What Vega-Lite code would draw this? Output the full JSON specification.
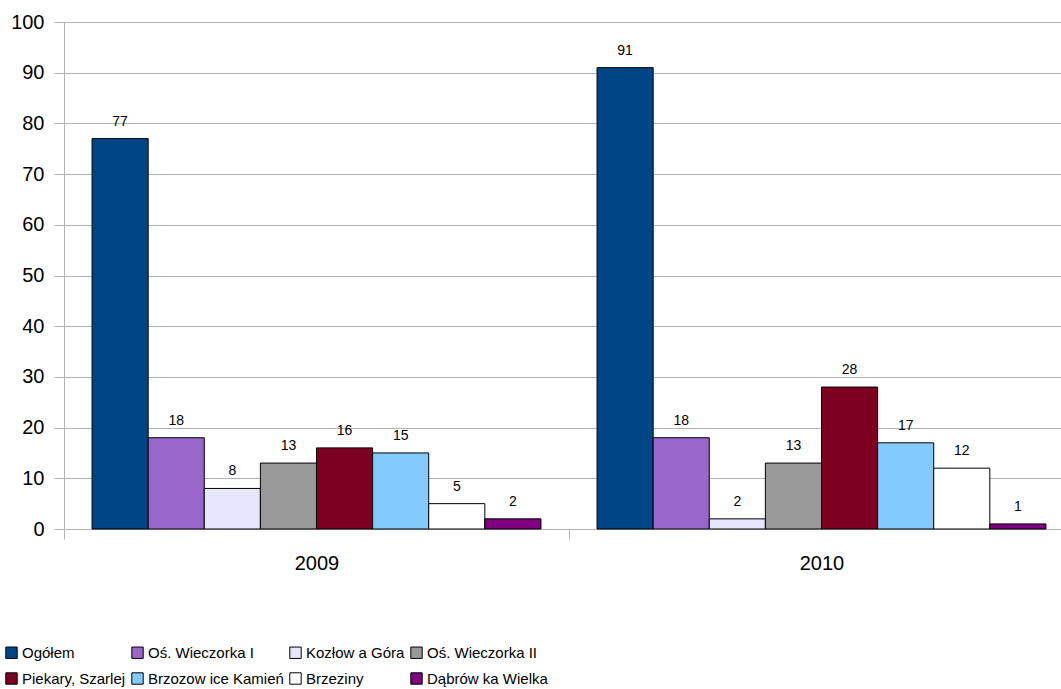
{
  "$schema": "https://vega.github.io/schema/vega-lite/v6.json",
  "autosize": {"type": "none"},
  "padding": {"top": 22, "left": 64, "right": 0, "bottom": 160},
  "width": 997,
  "height": 507,
  "background": "white",
  "config": {
    "view": {"stroke": null},
    "font": "Liberation Sans"
  },
  "data": {
    "values": [
      {"rok": "2009", "seria": "Ogółem", "wartosc": 77},
      {"rok": "2009", "seria": "Oś. Wieczorka I", "wartosc": 18},
      {"rok": "2009", "seria": "Kozłow a Góra", "wartosc": 8},
      {"rok": "2009", "seria": "Oś. Wieczorka II", "wartosc": 13},
      {"rok": "2009", "seria": "Piekary, Szarlej", "wartosc": 16},
      {"rok": "2009", "seria": "Brzozow ice Kamień", "wartosc": 15},
      {"rok": "2009", "seria": "Brzeziny", "wartosc": 5},
      {"rok": "2009", "seria": "Dąbrów ka Wielka", "wartosc": 2},
      {"rok": "2010", "seria": "Ogółem", "wartosc": 91},
      {"rok": "2010", "seria": "Oś. Wieczorka I", "wartosc": 18},
      {"rok": "2010", "seria": "Kozłow a Góra", "wartosc": 2},
      {"rok": "2010", "seria": "Oś. Wieczorka II", "wartosc": 13},
      {"rok": "2010", "seria": "Piekary, Szarlej", "wartosc": 28},
      {"rok": "2010", "seria": "Brzozow ice Kamień", "wartosc": 17},
      {"rok": "2010", "seria": "Brzeziny", "wartosc": 12},
      {"rok": "2010", "seria": "Dąbrów ka Wielka", "wartosc": 1}
    ]
  },
  "encoding": {
    "x": {
      "field": "rok", "type": "nominal",
      "scale": {"range": [0, 1010], "paddingInner": 0, "paddingOuter": 0},
      "axis": {
        "title": null, "labelAngle": 0, "labelFontSize": 20, "labelColor": "#000000",
        "labelPadding": 14, "tickBand": "extent", "tickSize": 10,
        "tickColor": "#b3b3b3", "domainColor": "#b3b3b3", "grid": false
      }
    },
    "xOffset": {
      "field": "seria", "type": "nominal",
      "sort": ["Ogółem", "Oś. Wieczorka I", "Kozłow a Góra", "Oś. Wieczorka II", "Piekary, Szarlej", "Brzozow ice Kamień", "Brzeziny", "Dąbrów ka Wielka"],
      "scale": {"paddingInner": 0, "paddingOuter": 0.5}
    },
    "y": {
      "field": "wartosc", "type": "quantitative",
      "scale": {"domain": [0, 100], "nice": false},
      "axis": {
        "title": null, "values": [0, 10, 20, 30, 40, 50, 60, 70, 80, 90, 100],
        "labelFontSize": 20, "labelColor": "#000000", "labelPadding": 10,
        "tickSize": 10, "tickColor": "#b3b3b3", "domainColor": "#b3b3b3",
        "gridColor": "#b3b3b3", "gridOpacity": 1
      }
    }
  },
  "layer": [
    {
      "mark": {"type": "bar", "stroke": "#000000", "strokeWidth": 1},
      "encoding": {
        "color": {
          "field": "seria", "type": "nominal",
          "sort": ["Ogółem", "Oś. Wieczorka I", "Kozłow a Góra", "Oś. Wieczorka II", "Piekary, Szarlej", "Brzozow ice Kamień", "Brzeziny", "Dąbrów ka Wielka"],
          "scale": {
            "domain": ["Ogółem", "Oś. Wieczorka I", "Kozłow a Góra", "Oś. Wieczorka II", "Piekary, Szarlej", "Brzozow ice Kamień", "Brzeziny", "Dąbrów ka Wielka"],
            "range": ["#004586", "#9966cc", "#e6e6ff", "#999999", "#7e0021", "#83caff", "#ffffff", "#800080"]
          },
          "legend": {
            "title": null, "orient": "none", "legendX": -60, "legendY": 623,
            "direction": "horizontal", "columns": 4, "gridAlign": "each",
            "columnPadding": 3, "rowPadding": 9,
            "symbolType": "square", "symbolSize": 130, "symbolStrokeColor": "#000000",
            "symbolStrokeWidth": 1, "symbolOpacity": 1,
            "labelFont": "Liberation Sans", "labelFontSize": 15, "labelColor": "#000000",
            "labelOffset": 3, "labelLimit": 400
          }
        }
      }
    },
    {
      "mark": {"type": "text", "dy": -10, "baseline": "bottom", "fontSize": 14, "color": "#000000"},
      "encoding": {
        "text": {"field": "wartosc", "type": "quantitative"}
      }
    }
  ]
}
